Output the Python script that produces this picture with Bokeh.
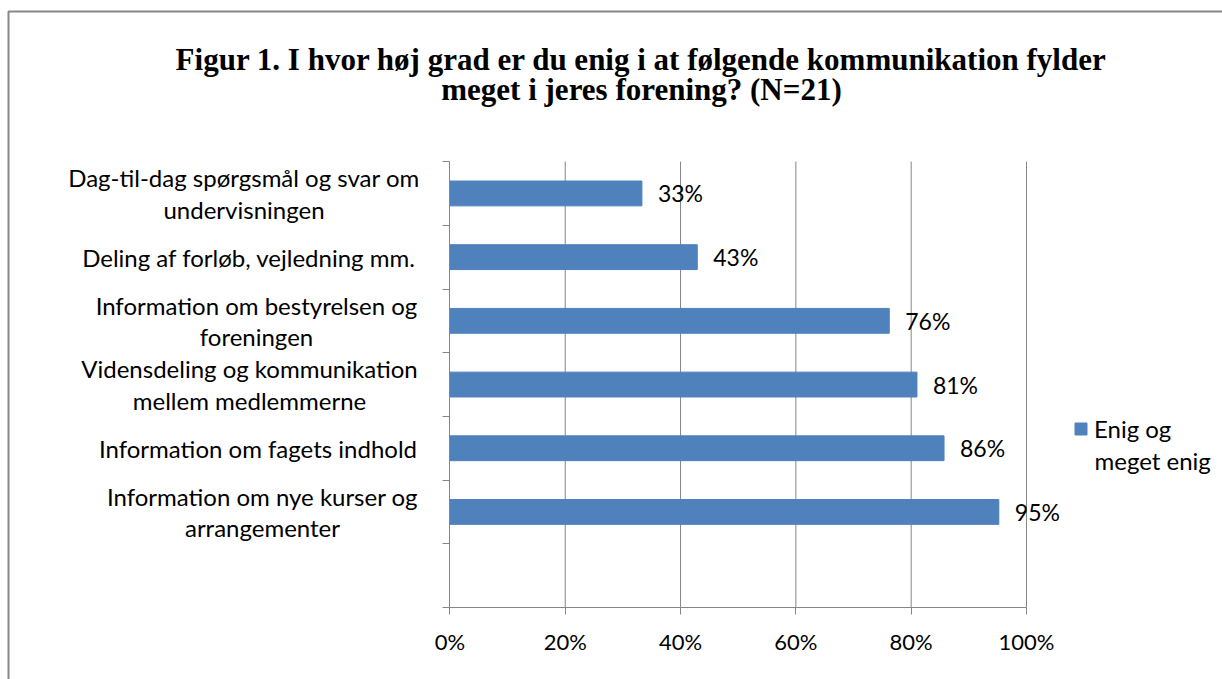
from bokeh.plotting import figure
from bokeh.models import ColumnDataSource, LabelSet, Label, FixedTicker, Range1d, Legend, LegendItem, BoxAnnotation
from bokeh.embed import file_html
from bokeh.resources import INLINE
from bokeh.core.properties import value

# ---- data (top to bottom) ----
categories = [
    "Dag-til-dag spørgsmål og svar om\nundervisningen",
    "Deling af forløb, vejledning mm.",
    "Information om bestyrelsen og\nforeningen",
    "Vidensdeling og kommunikation\nmellem medlemmerne",
    "Information om fagets indhold",
    "Information om nye kurser og\narrangementer",
]
values = [33.3, 42.9, 76.2, 81.0, 85.7, 95.2]
value_labels = ["33%", "43%", "76%", "81%", "86%", "95%"]
x_ticks = [0, 20, 40, 60, 80, 100]
x_tick_labels = ["0%", "20%", "40%", "60%", "80%", "100%"]
series_name = ["Enig og", "meget enig"]
title_lines = [
    "Figur 1. I hvor høj grad er du enig i at følgende kommunikation fylder",
    "meget i jeres forening? (N=21)",
]

# ---- layout (page pixels) ----
W, H = 1222, 679
N_SLOTS = 7            # Excel left one empty slot at the bottom
ZERO_X_PX = 449.4      # where 0% sits
PX_PER_UNIT_X = 5.766
AXIS_Y_PX = 607        # bottom of plot area
PX_PER_SLOT = 63.7
LINE_H = 31.7
label_centers_px = [243.5, 248.5, 256, 249, 257.5, 262]   # centre of each category text block

def x_data(px):
    return (px - ZERO_X_PX) / PX_PER_UNIT_X

def y_data(px):
    return (AXIS_Y_PX - px) / PX_PER_SLOT

ys = [N_SLOTS - 0.5 - i for i in range(len(categories))]
src = ColumnDataSource(dict(y=ys, value=values, vlabel=value_labels))

# one row per text line of the category labels, each line centred
lx, ly, lt = [], [], []
for cat, yc, cpx in zip(categories, ys, label_centers_px):
    parts = cat.split("\n")
    n = len(parts)
    for j, part in enumerate(parts):
        lx.append(x_data(cpx))
        ly.append(yc - (j - (n - 1) / 2) * LINE_H / PX_PER_SLOT)
        lt.append(part)
cat_src = ColumnDataSource(dict(x=lx, y=ly, text=lt))

FONT = "Lato"
GRAY = "#868686"

p = figure(width=W, height=H, x_range=Range1d(x_data(0), x_data(W)),
           y_range=Range1d(y_data(H), y_data(0)),
           output_backend="svg", toolbar_location=None,
           min_border_left=0, min_border_right=0, min_border_top=0, min_border_bottom=0)
p.outline_line_color = None
p.background_fill_color = "white"
p.border_fill_color = "white"

# vertical gridlines limited to the plot area
grid_x = x_ticks[1:]
p.segment(x0=grid_x, x1=grid_x, y0=[0] * len(grid_x), y1=[N_SLOTS] * len(grid_x),
          line_color=GRAY, line_width=1)
p.grid.visible = False

r = p.hbar(y="y", left=0, right="value", height=0.39, source=src,
           fill_color="#4F81BD", line_color="#4F81BD")

# x axis, drawn at the bottom of the plot area
p.xaxis.fixed_location = 0
p.xaxis.ticker = FixedTicker(ticks=x_ticks)
p.xaxis.bounds = (0, 100)
p.xaxis.major_label_overrides = {t: l for t, l in zip(x_ticks, x_tick_labels)}
p.xaxis.axis_line_color = GRAY
p.xaxis.major_tick_line_color = GRAY
p.xaxis.major_tick_out = 7
p.xaxis.major_tick_in = 0
p.xaxis.minor_tick_line_color = None
p.xaxis.major_label_text_font = FONT
p.xaxis.major_label_text_font_size = "22px"
p.xaxis.major_label_text_color = "black"
p.xaxis.major_label_standoff = 13

# y axis (ticks on slot boundaries, no labels), sitting at 0%
p.yaxis.fixed_location = 0
p.yaxis.ticker = FixedTicker(ticks=list(range(N_SLOTS + 1)))
p.yaxis.bounds = (0, N_SLOTS)
p.yaxis.major_label_overrides = {i: "" for i in range(N_SLOTS + 1)}
p.yaxis.axis_line_color = GRAY
p.yaxis.major_tick_line_color = GRAY
p.yaxis.major_tick_out = 7
p.yaxis.major_tick_in = 0
p.yaxis.minor_tick_line_color = None

# value labels
p.add_layout(LabelSet(x="value", y="y", text="vlabel", source=src, x_offset=16,
                      text_baseline="middle", text_align="left",
                      text_font=value(FONT), text_font_size="23px", text_color="black"))
# category labels
p.add_layout(LabelSet(x="x", y="y", text="text", source=cat_src,
                      text_baseline="middle", text_align="center",
                      text_font=value(FONT), text_font_size="24px", text_color="black"))

# title
for line, ypx in zip(title_lines, [59, 89]):
    p.add_layout(Label(x=x_data(641), y=y_data(ypx), text=line, text_align="center",
                       text_baseline="alphabetic", text_font="Liberation Serif",
                       text_font_style="bold", text_font_size="31px", text_color="black"))

# chart-area border (only its top and left edges fall inside the picture)
p.add_layout(BoxAnnotation(left=x_data(8), top=y_data(11), right=x_data(W + 20), bottom=y_data(H + 20),
                           fill_alpha=0, line_color="#878787", line_alpha=1.0, line_width=2))

legend = Legend(items=[LegendItem(label=series_name[0], renderers=[r])],
                location=(1073, H - 443), border_line_color=None, background_fill_alpha=0,
                padding=0, margin=0, glyph_width=15, glyph_height=15, label_standoff=6,
                label_text_font=FONT, label_text_font_size="24px", label_text_color="black")
p.add_layout(legend)
p.add_layout(Label(x=x_data(1094), y=y_data(460), text=series_name[1], text_align="left",
                   text_baseline="middle", text_font=FONT, text_font_size="24px",
                   text_color="black"))

open("out.html", "w").write(file_html(p, INLINE))
